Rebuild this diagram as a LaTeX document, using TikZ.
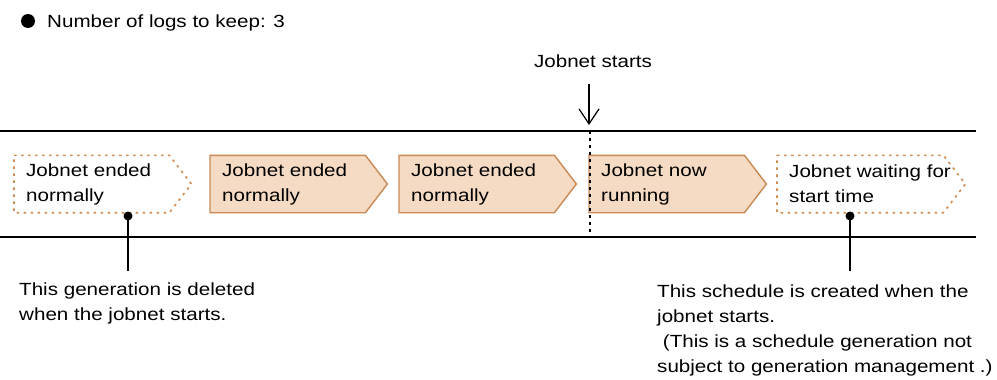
\documentclass[tikz,border=0pt]{standalone}
\usepackage{fontspec}
\setmainfont{Liberation Sans}[FakeStretch=1.17]
\usetikzlibrary{arrows.meta,backgrounds}
\definecolor{genfill}{RGB}{246,219,196}
\definecolor{genedge}{RGB}{200,138,84}
\definecolor{gendot}{RGB}{205,140,80}
\tikzset{
  txt/.style={font=\fontsize{17.6}{25}\selectfont, inner sep=0pt},
  genbox/.style={txt, anchor=west, text width=153pt, inner xsep=12pt,
    minimum height=57pt, align=left},
  livegen/.style={fill=genfill, draw=genedge, line width=1.4pt},
  pastgen/.style={draw=gendot, line width=1.6pt, dash pattern=on 2.5pt off 4.5pt},
  rule/.style={line width=1.5pt},
  tick/.style={line width=1.5pt},
  note/.style={txt, anchor=base west, align=left},
}
% draws the pointed outline of a generation box around node #2
\newcommand{\genoutline}[2]{%
  \draw[#1] (#2.north west) -- ([xshift=-22pt]#2.north east) -- (#2.east)
    -- ([xshift=-22pt]#2.south east) -- (#2.south west) -- cycle;}
\begin{document}
\begin{tikzpicture}[x=1pt, y=-1pt]
\useasboundingbox (0,0) rectangle (997,380);

% heading
\node[circle, fill=black, inner sep=0pt, minimum size=14pt] (bullet) at (28,21) {};
\node[note] (heading) at (47,27.5) {Number of logs to keep: 3};

% time axis
\coordinate (topL) at (0,131);
\coordinate (topR) at (976,131);
\coordinate (botL) at (0,237);
\coordinate (botR) at (976,237);
\draw[rule] (topL) -- (topR);
\draw[rule] (botL) -- (botR);

% generation boxes
\node[genbox] (g1) at (14,184) {Jobnet ended\\normally};
\node[genbox] (g2) at (210,184) {Jobnet ended\\normally};
\node[genbox] (g3) at (399,184) {Jobnet ended\\normally};
\node[genbox] (g4) at (589,184) {Jobnet now\\running};
\node[genbox, text width=164pt] (g5) at (777,184) {Jobnet waiting for\\start time};
\begin{scope}[on background layer, yshift=1.5pt]
\genoutline{pastgen}{g1}
\genoutline{livegen}{g2}
\genoutline{livegen}{g3}
\genoutline{livegen}{g4}
\genoutline{pastgen}{g5}
\end{scope}

% start of the jobnet
\node[txt, anchor=base] (start) at (593,67) {Jobnet starts};
\coordinate (arrowTop) at (589,84);
\coordinate (arrowTip) at (589,125);
\draw[line width=1.2pt, -{Straight Barb[length=15pt, width=20pt, line width=1.2pt]}]
  (arrowTop) -- (arrowTip);
\coordinate (startTop) at (590,131);
\coordinate (startBot) at (590,237);
\draw[line width=1.5pt, dash pattern=on 3pt off 4pt] (startTop) -- (startBot);

% annotations
\coordinate (d1) at (128,216);
\coordinate (e1) at (128,271);
\fill (d1) circle (4.5pt);
\draw[tick] (d1) -- (e1);
\node[note] (n1) at (19,320) {This generation is deleted\\when the jobnet starts.};

\coordinate (d5) at (850,216);
\coordinate (e5) at (850,271);
\fill (d5) circle (4.5pt);
\draw[tick] (d5) -- (e5);
\node[note] (n5) at (657,372) {This schedule is created when the\\jobnet starts.\\
  \ (This is a schedule generation not\\subject to generation management .)};
\end{tikzpicture}
\end{document}
